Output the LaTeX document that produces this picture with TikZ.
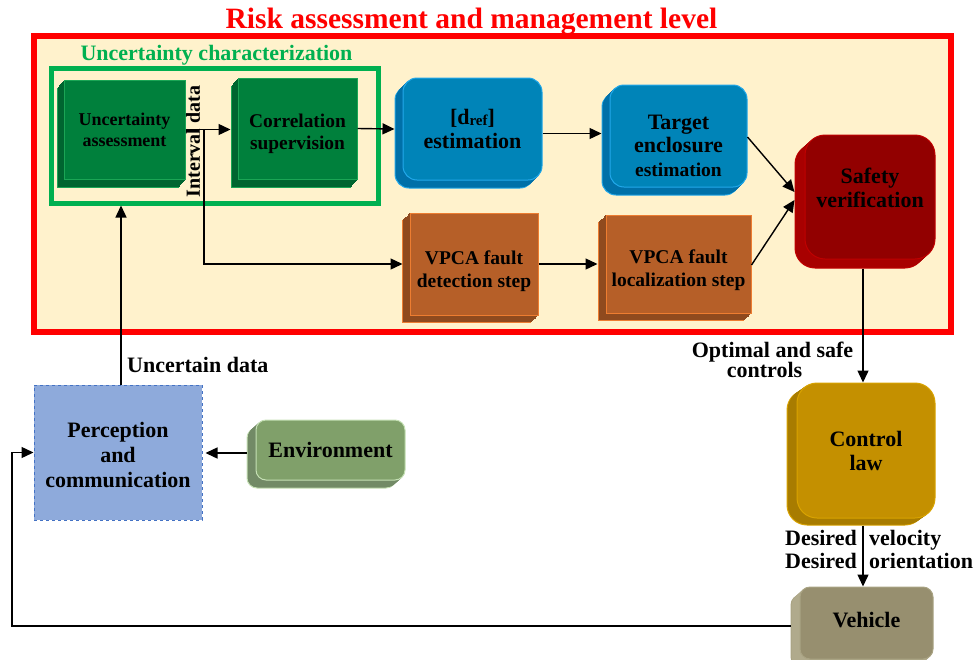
\documentclass[tikz,border=0pt]{standalone}
\usepackage{fontspec}
\setmainfont{Liberation Serif}
\usetikzlibrary{arrows.meta,shadows}
\definecolor{cream}{HTML}{FFF2CC}
\definecolor{redT}{HTML}{FF0000}
\definecolor{grn}{HTML}{00B050}
\definecolor{cgF}{HTML}{00803C}
\definecolor{cgB}{HTML}{1BA555}
\definecolor{cgS}{HTML}{006530}
\definecolor{blF}{HTML}{0084B8}
\definecolor{blB}{HTML}{22A8EA}
\definecolor{blS}{HTML}{0070A8}
\definecolor{rdF}{HTML}{920000}
\definecolor{rdB}{HTML}{C00000}
\definecolor{rdS}{HTML}{A80000}
\definecolor{orF}{HTML}{B65F28}
\definecolor{orB}{HTML}{ED7D31}
\definecolor{orS}{HTML}{8F4A1E}
\definecolor{gdF}{HTML}{C49000}
\definecolor{gdB}{HTML}{D9A300}
\definecolor{gdS}{HTML}{A87C00}
\definecolor{vhF}{HTML}{978F6F}
\definecolor{vhB}{HTML}{A9A383}
\definecolor{vhS}{HTML}{B0AA8C}
\definecolor{enF}{HTML}{80A06A}
\definecolor{enB}{HTML}{C5E0B4}
\definecolor{enS}{HTML}{728A66}
\definecolor{pcF}{HTML}{8EAADB}
\definecolor{pcB}{HTML}{4472C4}
\tikzset{
  base/.style={align=center, inner sep=0pt, text=black,
    font=\fontsize{22}{25}\selectfont\bfseries},
  box3d/.style n args={5}{base, fill=#1, draw=#2, line width=1pt,
    general shadow={shadow xshift=#4, shadow yshift=#5, fill=#3, draw=#2, line width=1pt},
    general shadow={shadow xshift=0.85*#4, shadow yshift=0.85*#5, fill=#3, draw=#3, line width=0.6pt},
    general shadow={shadow xshift=0.7*#4, shadow yshift=0.7*#5, fill=#3, draw=#3, line width=0.6pt},
    general shadow={shadow xshift=0.55*#4, shadow yshift=0.55*#5, fill=#3, draw=#3, line width=0.6pt},
    general shadow={shadow xshift=0.4*#4, shadow yshift=0.4*#5, fill=#3, draw=#3, line width=0.6pt},
    general shadow={shadow xshift=0.25*#4, shadow yshift=0.25*#5, fill=#3, draw=#3, line width=0.6pt},
    general shadow={shadow xshift=0.1*#4, shadow yshift=0.1*#5, fill=#3, draw=#3, line width=0.6pt}},
  cubeg/.style={box3d={cgF}{cgB}{cgS}{-7pt}{-8pt}},
  bluebox/.style={box3d={blF}{blB}{blS}{-8pt}{-8pt}, rounded corners=14pt},
  redbox/.style={box3d={rdF}{rdB}{rdS}{-10pt}{-9pt}, rounded corners=20pt},
  orbox/.style={box3d={orF}{orB}{orS}{-8pt}{-7pt},
    font=\fontsize{19.5}{23}\selectfont\bfseries},
  gdbox/.style={box3d={gdF}{gdB}{gdS}{-10pt}{-7pt}, rounded corners=20pt},
  vhbox/.style={box3d={vhF}{vhB}{vhS}{-9pt}{-8pt}, rounded corners=10pt},
  enbox/.style={box3d={enF}{enB}{enS}{-9pt}{-8pt}, rounded corners=10pt},
  arr/.style={line width=1.4pt, -{Triangle[length=12pt,width=11pt]}},
  lbl/.style={inner sep=0pt, font=\fontsize{22}{25}\selectfont\bfseries}
}
\begin{document}
\begin{tikzpicture}[x=1pt,y=-1pt]
\useasboundingbox (0,0) rectangle (974,659);
% frames
\node[draw=redT, fill=cream, line width=6pt, minimum width=917pt, minimum height=296pt, inner sep=0pt] (riskframe) at (492.5,184) {};
\node[draw=grn, line width=5pt, minimum width=327pt, minimum height=135pt, inner sep=0pt] (ucframe) at (214.5,135.5) {};
\node[inner sep=0pt, anchor=base, text=redT, font=\fontsize{29.5}{30}\selectfont\bfseries] (title) at (471.5,28) {Risk assessment and management level};
\node[inner sep=0pt, anchor=base, text=grn, font=\fontsize{22}{22}\selectfont\bfseries] (uctitle) at (216.5,60) {Uncertainty characterization};
% blocks
\node[cubeg, font=\fontsize{18}{21}\selectfont\bfseries, minimum width=121pt, minimum height=99pt] (ua) at (124.5,129.5) {Uncertainty\\assessment};
\node[cubeg, font=\fontsize{19.4}{22}\selectfont\bfseries, minimum width=119pt, minimum height=101pt] (cs) at (297.5,128.5) {\rule{0pt}{24pt}Correlation\\supervision};
\node[bluebox, font=\fontsize{22}{24.5}\selectfont\bfseries, minimum width=139pt, minimum height=102pt] (dref) at (472.5,129) {[d\raisebox{-1pt}{\fontsize{15}{15}\selectfont ref}]\\estimation};
\node[bluebox, font=\fontsize{22}{23.5}\selectfont\bfseries, minimum width=137pt, minimum height=102pt] (target) at (678.5,136) {\rule{0pt}{34pt}Target\\enclosure\\{\fontsize{19.5}{23.5}\selectfont estimation}};
\node[redbox, font=\fontsize{22}{24}\selectfont\bfseries, minimum width=130pt, minimum height=124pt] (safety) at (870,197) {Safety\\verification\rule[-18pt]{0pt}{1pt}};
\node[orbox, minimum width=128pt, minimum height=102pt] (det) at (474,264) {\rule{0pt}{29pt}VPCA fault\\detection step};
\node[orbox, minimum width=145pt, minimum height=98pt] (loc) at (678.5,264) {\rule{0pt}{27pt}VPCA fault\\localization step};
\node[gdbox, font=\fontsize{22}{24}\selectfont\bfseries, minimum width=138pt, minimum height=135pt] (ctrl) at (866,450.5) {Control\\law};
\node[vhbox, minimum width=133pt, minimum height=72pt] (veh) at (866.5,623) {Vehicle\rule[-7pt]{0pt}{1pt}};
\node[enbox, minimum width=149pt, minimum height=60pt] (env) at (330.5,450) {Environment};
\node[base, fill=pcF, draw=pcB, dashed, line width=1pt, minimum width=168pt, minimum height=135pt] (perc) at (118,452.5) {\rule{0pt}{21pt}Perception\\and\\communication};
% labels
\node[lbl, rotate=90, font=\fontsize{20}{20}\selectfont\bfseries] (ivl) at (193,141.5) {Interval data};
\node[lbl, anchor=base west] (udl) at (127,372) {Uncertain data};
\node[lbl, align=center, anchor=north, font=\fontsize{22}{18}\selectfont\bfseries] (osl) at (772.5,342) {Optimal and safe\\[-1pt]controls\kern16pt};
\node[lbl, align=right, anchor=north east, font=\fontsize{22}{23}\selectfont\bfseries] (dsl) at (857,530) {Desired\\Desired};
\node[lbl, align=left, anchor=north west, font=\fontsize{22}{23}\selectfont\bfseries] (dsr) at (869,530) {velocity\\orientation};
% connectors
\coordinate (ival) at (204,129.5);
\coordinate (pu) at (121,385);
\coordinate (lb) at (12,626);
\draw[arr] (ua.east) -- ([xshift=-7pt]cs.west |- ua.east);
\draw[arr] (ival) |- ([xshift=-7pt]det.west);
\draw[arr] (cs.east) -- ([xshift=-8pt]dref.west);
\draw[arr] ([yshift=-4.5pt]dref.east) -- ([xshift=-8pt,yshift=2.5pt]target.west);
\draw[arr] ([yshift=-1pt]target.east) -- ([xshift=-10pt,yshift=5pt]safety.west);
\draw[arr] (det.east) -- ([xshift=-8pt]loc.west |- det.east);
\draw[arr] ([yshift=-1pt]loc.east) -- ([xshift=-10pt,yshift=-3pt]safety.west);
\draw[arr] ([xshift=-7pt,yshift=-9pt]safety.south) -- ([xshift=-3pt]ctrl.north);
\draw[arr] ([xshift=-3pt,yshift=-7pt]ctrl.south) -- ([xshift=-3.5pt]veh.north);
\draw[arr] ([xshift=-9pt,yshift=-3pt]veh.west) -- (lb) |- (perc.west);
\draw[arr] ([xshift=-9pt,yshift=-3pt]env.west) -- ([xshift=3pt,yshift=-0.5pt]perc.east);
\draw[arr] (pu) -- (pu |- ucframe.south);
\end{tikzpicture}
\end{document}
